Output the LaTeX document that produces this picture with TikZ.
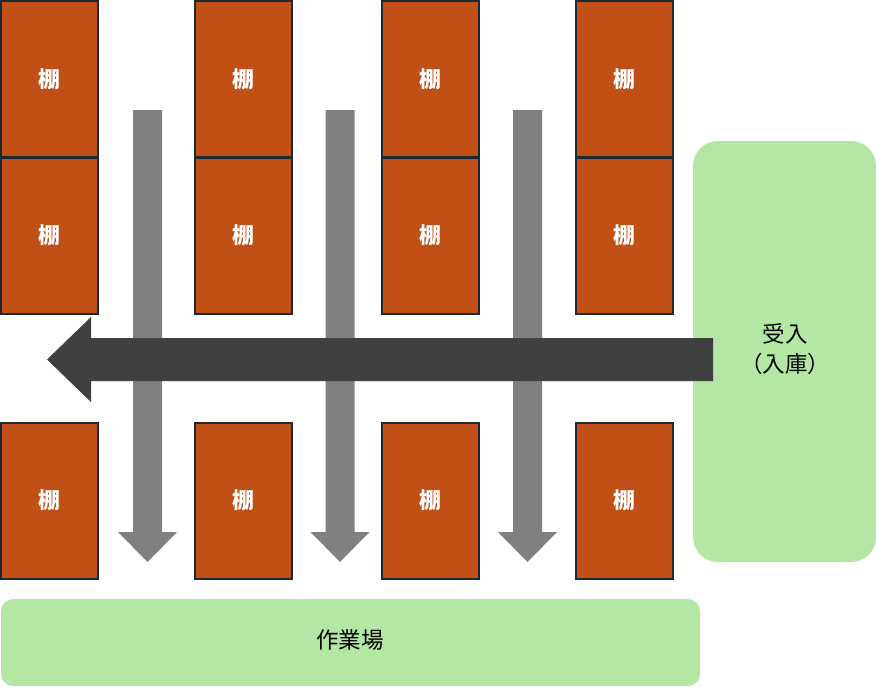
\documentclass[tikz,border=0pt]{standalone}
\usepackage{fontspec}
\setmainfont{Noto Sans CJK JP}
\newfontfamily\jp{Noto Sans CJK JP}
\definecolor{shelf}{RGB}{192,80,22}
\definecolor{shelfline}{RGB}{28,42,54}
\definecolor{area}{RGB}{180,230,164}
\definecolor{flowgray}{RGB}{128,128,128}
\definecolor{flowdark}{RGB}{64,64,64}
\begin{document}
\begin{tikzpicture}[x=1pt,y=-1pt,
  shelfbox/.style={draw=shelfline,line width=2pt,fill=shelf,text=white,
    minimum width=97pt,minimum height=156pt,inner sep=0pt,font=\jp\bfseries\fontsize{22}{26}\selectfont},
  areabox/.style={fill=area,inner sep=0pt,font=\jp\fontsize{22.5}{30}\selectfont,align=center}]
\useasboundingbox[fill=white] (0,0) rectangle (876,686);
% shelves
\foreach \c/\x in {1/49.5,2/243.5,3/430.5,4/624.5}{
  \node[shelfbox] (s\c a) at (\x,79) {棚};
  \node[shelfbox] (s\c b) at (\x,235.5) {棚};
  \node[shelfbox] (s\c c) at (\x,500.5) {棚};
}
% green areas
\fill[area,rounded corners=25pt] (693,141) rectangle (876,562);
\node[areabox] (recv) at (785,349) {受入\\（入庫）};
\fill[area,rounded corners=12pt] (1,599) rectangle (700,686);
\node[areabox] (work) at (350,640) {作業場};
% gray down arrows
\foreach \cx in {147.5,340,527.5}{
  \fill[flowgray] (\cx-14.5,110) -- (\cx+14.5,110) -- (\cx+14.5,532) -- (\cx+29.5,532)
    -- (\cx,562) -- (\cx-29.5,532) -- (\cx-14.5,532) -- cycle;
}
% dark left arrow
\fill[flowdark] (713,338) -- (91,338) -- (91,317) -- (47,359.5) -- (91,402) -- (91,381) -- (713,381) -- cycle;
\end{tikzpicture}
\end{document}
